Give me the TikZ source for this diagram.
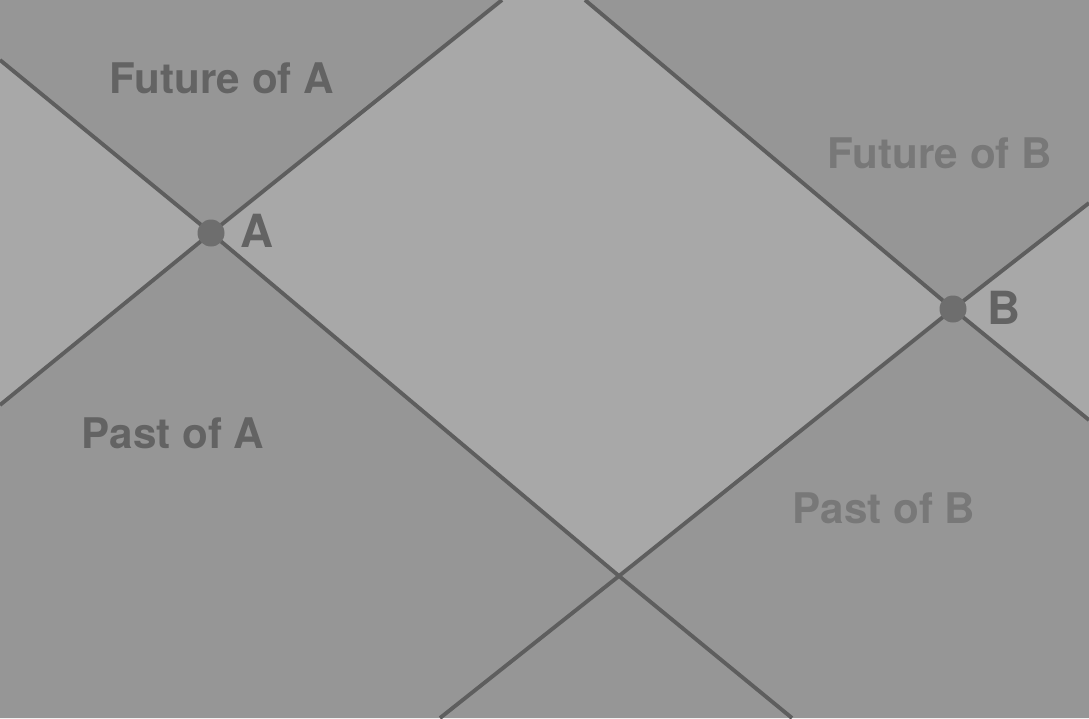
\documentclass[tikz,border=0pt]{standalone}
\usepackage{fontspec}
\setmainfont{TeX Gyre Heros}
\usepackage{tikz}

\definecolor{lightcone}{gray}{0.66}
\definecolor{darkcone}{gray}{0.59}
\definecolor{coneline}{gray}{0.37}
\definecolor{conedot}{gray}{0.43}
\definecolor{textA}{gray}{0.39}
\definecolor{textB}{gray}{0.47}

\begin{document}
\begin{tikzpicture}[x=0.02cm, y=-0.02cm,
  edge/.style={draw=coneline, line width=2.2pt, line join=round},
  region/.style={font=\fontsize{24}{28}\selectfont\bfseries, anchor=base},
  event/.style={font=\fontsize{26}{30}\selectfont\bfseries, anchor=base, text=textA}]
\fill[lightcone] (0,0) rectangle (1089,718);
\useasboundingbox (0,0) rectangle (1089,718);
\coordinate (A) at (211,233);
\coordinate (B) at (953,309);
\coordinate (X) at (619,576);
\coordinate (P1) at (0,60);
\coordinate (Q1) at (792,718);
\coordinate (P2) at (0,405);
\coordinate (R2) at (502,0);
\coordinate (R3) at (585,0);
\coordinate (Q3) at (1089,420);
\coordinate (Q4) at (440,718);
\coordinate (R4) at (1089,203);
\fill[darkcone] (0,0) -- (P1) -- (A) -- (R2) -- cycle;
\fill[darkcone] (R3) -- (B) -- (R4) -- (1089,0) -- cycle;
\fill[darkcone] (P2) -- (A) -- (X) -- (B) -- (Q3) -- (1089,718) -- (0,718) -- cycle;
\draw[edge] (P1) -- (A) -- (X) -- (Q1);
\draw[edge] (P2) -- (A) -- (R2);
\draw[edge] (R3) -- (B) -- (Q3);
\draw[edge] (Q4) -- (X) -- (B) -- (R4);
\fill[conedot] (A) circle [radius=13.5];
\fill[conedot] (B) circle [radius=13.5];
\node[event] (labelA) at (257,247) {A};
\node[event] (labelB) at (1004,324) {B};
\node[region, text=textA] (futA) at (222,93) {Future of A};
\node[region, text=textA] (pastA) at (173,448) {Past of A};
\node[region, text=textB] (futB) at (940,168) {Future of B};
\node[region, text=textB] (pastB) at (884,523) {Past of B};
\end{tikzpicture}
\end{document}
